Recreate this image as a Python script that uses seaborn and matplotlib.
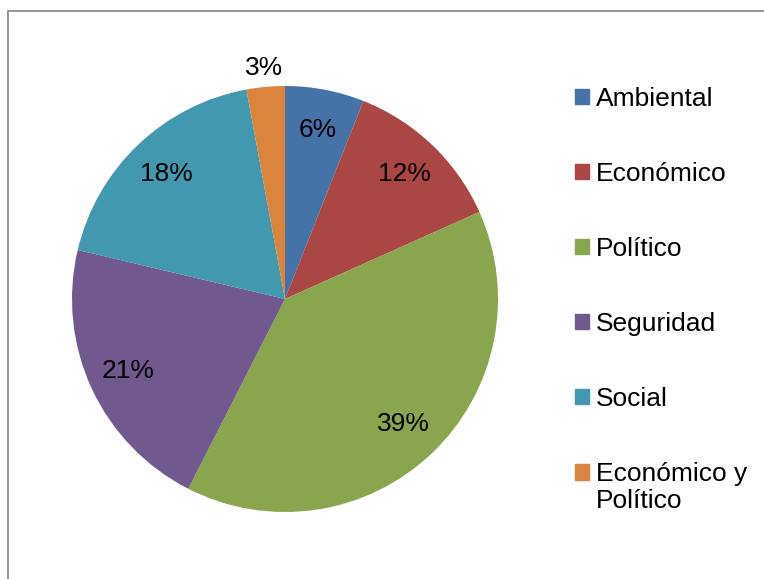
import matplotlib
matplotlib.use("Agg")
import matplotlib.pyplot as plt
import matplotlib.patches as mpatches
import numpy as np
import seaborn as sns

# -------------------
# Data (percent of total)
categories = ["Ambiental", "Económico", "Político", "Seguridad", "Social", "Económico y\nPolítico"]
shares = [6.0, 12.3, 39.2, 21.2, 18.4, 2.9]
colors = ["#4572A7", "#AA4643", "#89A54E", "#71588F", "#4198AF", "#DB843D"]

sns.set_theme(style="white")
plt.rcParams['font.family'] = ['Liberation Sans', 'DejaVu Sans']

W, H = 764, 579
fig = plt.figure(figsize=(W / 100, H / 100), dpi=100)

# thin gray frame (only top and left show in the crop)
fig.patches.append(mpatches.Rectangle((8 / W, -0.1), 1.2, (H - 11) / H + 0.1,
                                      transform=fig.transFigure, fill=False,
                                      edgecolor="#8c8c8c", linewidth=1.3))

cx, cy, r = 285, H - 299, 213
ax = fig.add_axes([(cx - r) / W, (cy - r) / H, 2 * r / W, 2 * r / H])

palette = sns.color_palette(colors)
wedges, texts, autotexts = ax.pie(shares, colors=palette, startangle=90, counterclock=False,
                                  autopct='%.0f%%', pctdistance=0.81,
                                  wedgeprops=dict(linewidth=0),
                                  textprops=dict(fontsize=19, color="black"))
ax.set_xlim(-1, 1)
ax.set_ylim(-1, 1)
ax.set_aspect("equal")
ax.axis("off")

# small slice label goes outside, like Excel's best fit
theta = np.deg2rad(90 - 360 * (sum(shares[:-1]) + shares[-1] / 2) / 100)
autotexts[-1].set_position((1.09 * np.cos(theta), 1.09 * np.sin(theta)))

handles = [mpatches.Patch(color=c) for c in palette]
leg = fig.legend(handles, categories, loc="upper left", bbox_to_anchor=(575 / W, 1 - 87 / H),
                 frameon=False, fontsize=19, handlelength=0.53, handleheight=0.53,
                 handletextpad=0.27, labelspacing=1.93, borderpad=0, borderaxespad=0)
for t in leg.get_texts():
    t.set_color("black")
    t.set_linespacing(1.2)
# square sits on the first line of the two-line entry
last = leg.legend_handles[-1]
last.set_y(last.get_y() + 11.4)

fig.savefig("out.png", dpi=100)
